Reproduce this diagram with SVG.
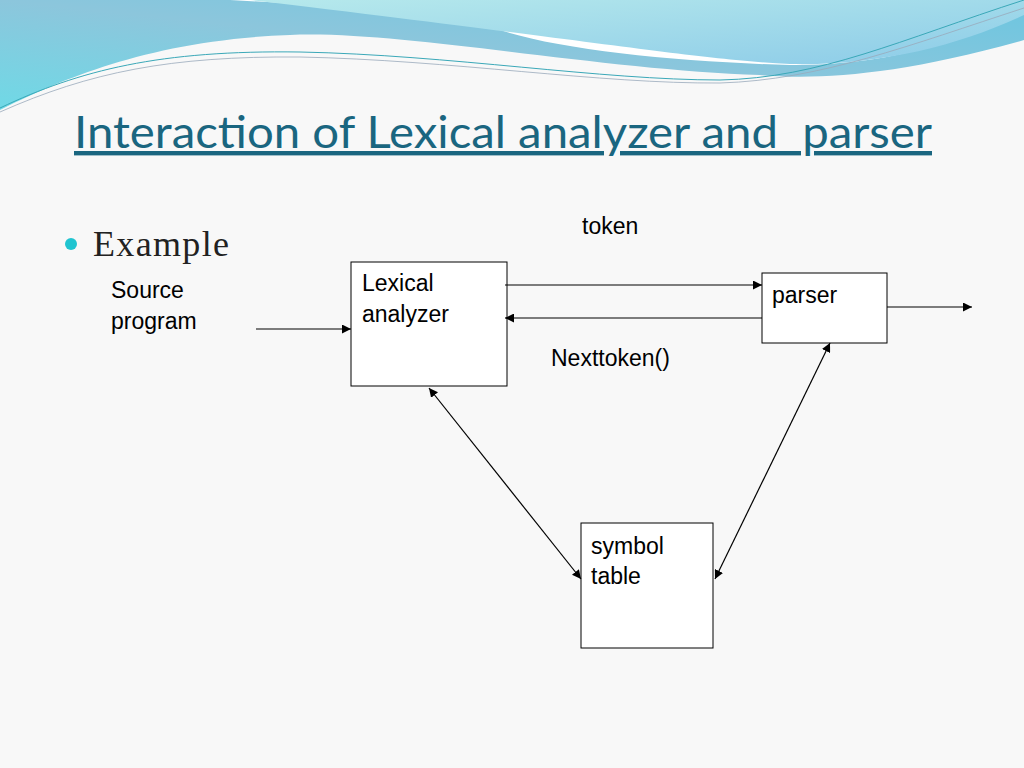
<svg xmlns="http://www.w3.org/2000/svg" width="1024" height="768" viewBox="0 0 1024 768">
<defs>
<linearGradient id="g1" x1="0" y1="1" x2="1" y2="0"><stop offset="0" stop-color="#6fd9e6"/><stop offset="0.5" stop-color="#8cc6dc"/><stop offset="1" stop-color="#6cc6e0"/></linearGradient>
<linearGradient id="g2" x1="0" y1="0" x2="1" y2="1"><stop offset="0" stop-color="#b6e9ec"/><stop offset="1" stop-color="#8ccbe8"/></linearGradient>
<marker id="ah" viewBox="0 0 10 10" refX="10" refY="5" markerWidth="9" markerHeight="9" orient="auto-start-reverse" markerUnits="userSpaceOnUse"><path d="M0,0 L10,5 L0,10 z" fill="#000"/></marker>
<style>
.box{fill:#fff;stroke:#000;stroke-width:1}
.t{font-family:"Liberation Sans",Arial,sans-serif;font-size:23px;fill:#000}
.c{stroke:#000;stroke-width:1.2;fill:none;marker-end:url(#ah)}
</style>
</defs>
<rect width="1024" height="768" fill="#f8f8f8"/>
<path d="M0,0 H1024 V40 C900,75 820,80 760,75 C600,70 400,30 290,35 C150,40 60,80 0,110 Z" fill="url(#g1)"/>
<path d="M230,0 H1024 V5 C960,40 900,65 790,65 C680,62 560,50 500,30 C450,15 330,5 230,0 Z" fill="#fff"/>
<path d="M250,0 H1024 V15 C960,45 880,66 790,64 C700,60 590,40 250,0 Z" fill="url(#g2)"/>
<path d="M0,108 C80,70 160,50 300,52 C450,55 600,80 720,80 C820,78 900,40 1024,0" fill="none" stroke="#3aa8b8" stroke-width="1"/>
<path d="M0,112 C90,72 170,56 300,57 C450,60 600,84 720,83 C820,80 910,45 1024,8" fill="none" stroke="#9ab" stroke-width="0.8"/>
<text x="74" y="148" font-family="Lato,'Open Sans',sans-serif" font-size="44" fill="#1a6680" text-decoration="underline" textLength="858" lengthAdjust="spacingAndGlyphs" xml:space="preserve">Interaction of Lexical analyzer and  parser</text>
<circle cx="71" cy="244" r="6" fill="#20c4d0"/>
<text x="93" y="256" font-family="'Liberation Serif',serif" font-size="36" fill="#222" textLength="136">Example</text>
<g id="source"><text class="t" x="111" y="298">Source</text><text class="t" x="111" y="329">program</text></g>
<g id="lexical"><rect class="box" x="351" y="262" width="156" height="124"/><text class="t" x="362" y="291">Lexical</text><text class="t" x="362" y="322">analyzer</text></g>
<g id="parser"><rect class="box" x="762" y="273" width="125" height="70"/><text class="t" x="772" y="303">parser</text></g>
<g id="symtab"><rect class="box" x="581" y="523" width="132" height="125"/><text class="t" x="591" y="554">symbol</text><text class="t" x="591" y="584">table</text></g>
<g id="labels"><text class="t" x="582" y="234">token</text><text class="t" x="551" y="366">Nexttoken()</text></g>
<g id="connectors">
<line class="c" x1="256" y1="329" x2="351" y2="329"/>
<line class="c" x1="505" y1="285" x2="762" y2="285"/>
<line class="c" x1="762" y1="318" x2="505" y2="318"/>
<line class="c" x1="887" y1="307" x2="972" y2="307"/>
<line class="c" x1="429" y1="388" x2="581" y2="579" style="marker-start:url(#ah)"/>
<line class="c" x1="830" y1="343" x2="715" y2="579" style="marker-start:url(#ah)"/>
</g>
</svg>
